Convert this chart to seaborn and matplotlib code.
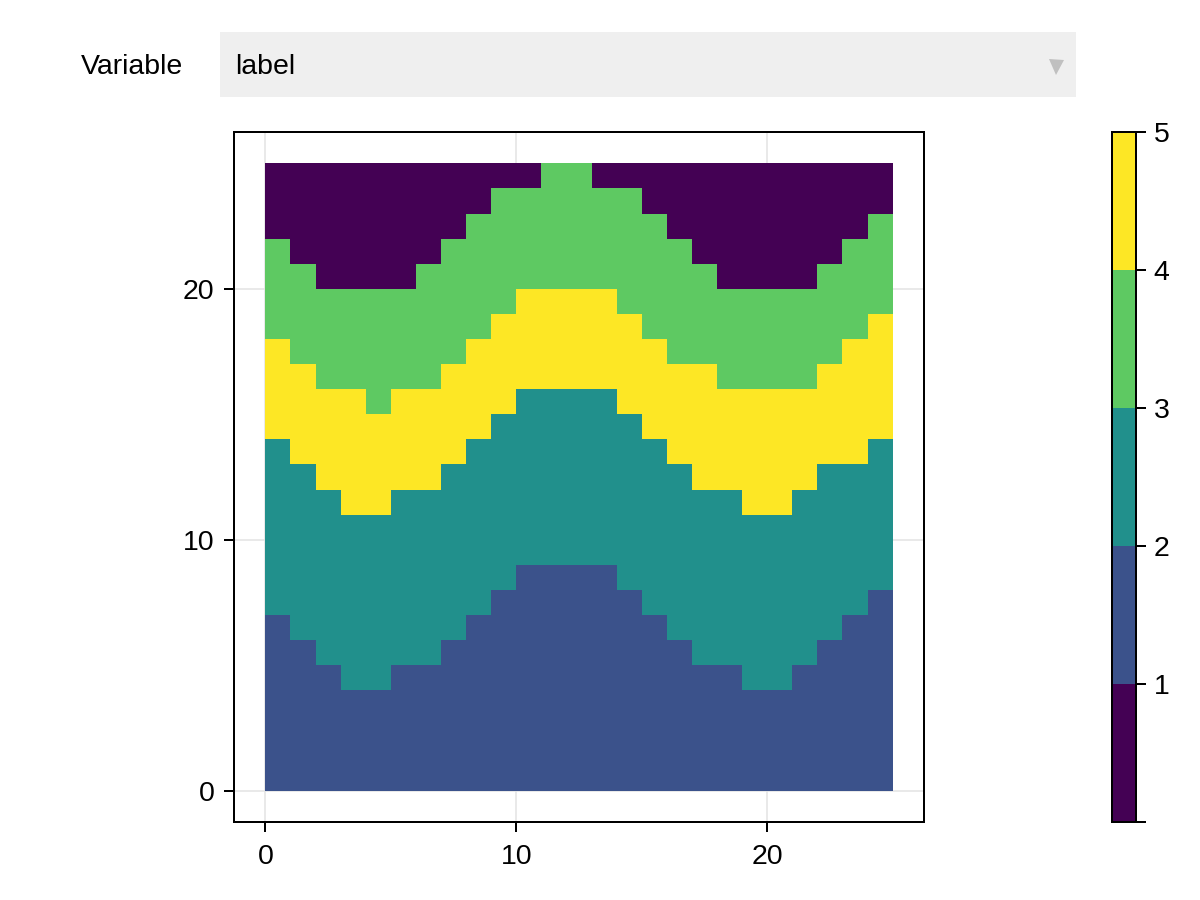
import numpy as np
import matplotlib
matplotlib.use("Agg")
import matplotlib.pyplot as plt
from matplotlib.colors import ListedColormap
from matplotlib.lines import Line2D
from matplotlib.patches import Rectangle
import seaborn as sns

# Upper edge of each band, per column
blue_top   = [7,6,5,4,4,5,5,6,7,8,9,9,9,9,8,7,6,5,5,4,4,5,6,7,8]
teal_top   = [14,13,12,11,11,12,12,13,14,15,16,16,16,16,15,14,13,12,12,11,11,12,13,13,14]
yellow_top = [18,17,16,16,15,16,16,17,18,19,20,20,20,20,19,18,17,17,16,16,16,16,17,18,19]
green_top  = [22,21,20,20,20,20,21,22,23,24,24,25,25,24,24,23,22,21,20,20,20,20,21,22,23]
palette = ["#440154", "#3b528b", "#21908c", "#5ec962", "#fde725"]
axis_ticks = [0, 10, 20]
cbar_ticks = [0, 1, 2, 3, 4, 5]
cbar_labels = ["", "1", "2", "3", "4", "5"]
label_text = "Variable"
menu_text = "label"

n = len(blue_top)
grid = np.zeros((n, n))
for c in range(n):
    for r in range(n):
        if r < blue_top[c]:
            grid[r, c] = 1
        elif r < teal_top[c]:
            grid[r, c] = 2
        elif r < yellow_top[c]:
            grid[r, c] = 4
        elif r < green_top[c]:
            grid[r, c] = 3
        else:
            grid[r, c] = 0

sns.set_style("white")
plt.rcParams["font.family"] = ["Liberation Sans", "DejaVu Sans"]
W, H = 1200, 900
FS = 20.5
LW = 1.44


def box(l, t, r, b):
    return [l / W, 1 - b / H, (r - l) / W, (b - t) / H]


fig = plt.figure(figsize=(12, 9), dpi=100, facecolor="white")
ax = fig.add_axes(box(234, 132, 924, 822))
cax = fig.add_axes(box(1112, 132, 1136, 822))

sns.heatmap(grid, ax=ax, cbar_ax=cax, cmap=ListedColormap(palette), vmin=0, vmax=5,
            linewidths=0, square=False, xticklabels=False, yticklabels=False)

ax.set_xlim(-1.25, 26.25)
ax.set_ylim(-1.25, 26.25)
ax.set_axisbelow(True)
ax.set_xticks(axis_ticks, [str(t) for t in axis_ticks])
ax.set_yticks(axis_ticks, [str(t) for t in axis_ticks])
ax.grid(True, color="#e3e3e3", linewidth=1.1)
ax.tick_params(axis="both", length=7.2, width=LW, color="black", labelsize=FS,
               labelcolor="black", bottom=True, left=True)
ax.tick_params(axis="x", pad=9)
ax.tick_params(axis="y", pad=6.7)
for side in ax.spines:
    ax.spines[side].set_visible(True)
    ax.spines[side].set_color("black")
    ax.spines[side].set_linewidth(LW)

cbar = ax.collections[0].colorbar
cbar.set_ticks(cbar_ticks, labels=cbar_labels)
cbar.minorticks_off()
cax.tick_params(axis="y", right=True, length=7.2, width=LW, color="black",
                labelsize=FS, labelcolor="black", pad=5.5)
cbar.outline.set_visible(True)
cbar.outline.set_edgecolor("black")
cbar.outline.set_linewidth(LW)

# Menu row
fig.add_artist(Rectangle((220 / W, 1 - 97 / H), 856 / W, 65 / H, transform=fig.transFigure,
                         facecolor="#efefef", edgecolor="none"))
fig.text(183.5 / W, 1 - 74 / H, label_text, ha="right", va="baseline", fontsize=FS, color="black")
fig.text(235 / W, 1 - 74 / H, menu_text, ha="left", va="baseline", fontsize=FS, color="black")
fig.add_artist(Line2D([1055.5 / W], [1 - 66.5 / H], transform=fig.transFigure, marker="v",
                      markersize=10.8, color="#c0c0c0", markeredgewidth=0, linestyle="none"))

fig.savefig("out.png", dpi=100, facecolor="white")
